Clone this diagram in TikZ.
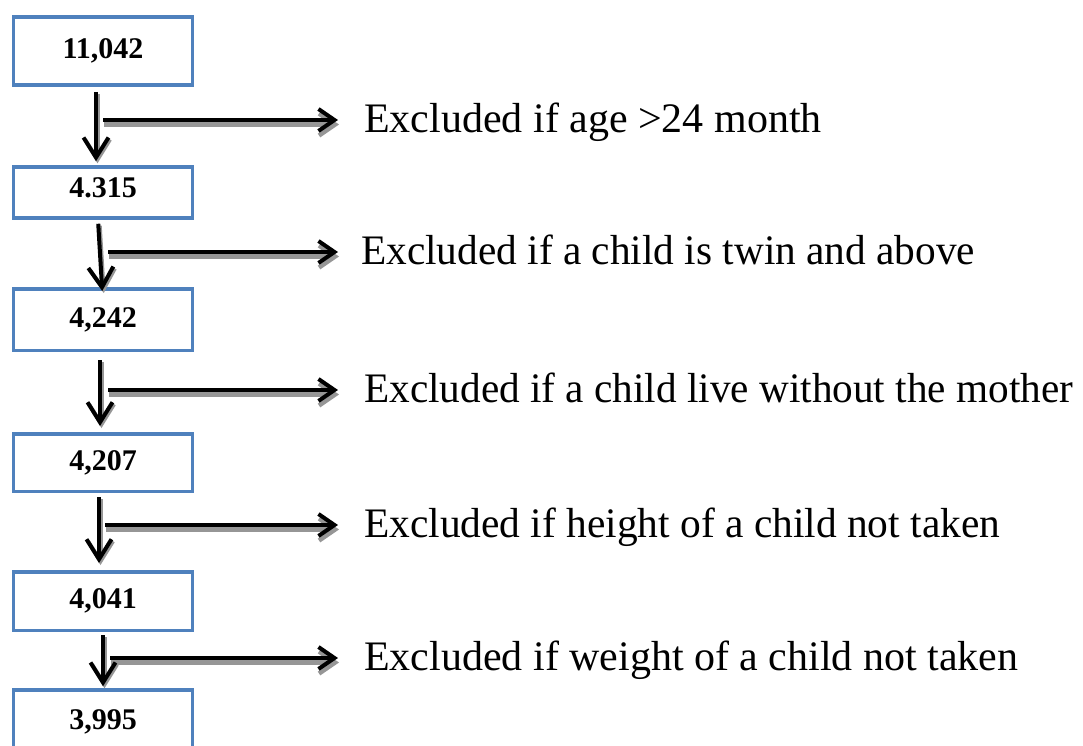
\documentclass[tikz,border=0pt]{standalone}
\usepackage{graphicx}
\usepackage{fontspec}
\setmainfont{Liberation Serif}
\usetikzlibrary{arrows.meta}
\definecolor{boxblue}{RGB}{79,129,189}
\definecolor{shadowgray}{RGB}{150,150,150}
\begin{document}
\begin{tikzpicture}[x=1pt,y=-1pt,
  numbox/.style={draw=boxblue,line width=3.5pt,minimum width=179pt,inner sep=0pt,
    font=\fontsize{30}{36}\selectfont\bfseries},
  lbl/.style={anchor=west,inner sep=0pt,text height=29pt,text depth=9pt,
    font=\fontsize{42}{50}\selectfont},
  downarr/.style={draw=black,line width=4pt,-{Straight Barb[length=20pt,width=25pt]}},
  downshadow/.style={draw=shadowgray,line width=4pt,-{Straight Barb[length=20pt,width=25pt]},
    transform canvas={xshift=1.5pt,yshift=-2pt}},
  sidearr/.style={draw=black,line width=4pt,-{Straight Barb[length=16pt,width=22pt]}},
  sideshadow/.style={draw=shadowgray,line width=4.5pt,-{Straight Barb[length=16pt,width=22pt]},
    transform canvas={xshift=1pt,yshift=-4.5pt}}
]
\useasboundingbox (0,0) rectangle (1083,745);
\clip (0,0) rectangle (1083,745);
\fill[white] (0,0) rectangle (1083,745);

% boxes
\node[numbox,minimum height=68pt]   (b1) at (103,51)    {11,042};
\node[numbox,minimum height=51pt,text depth=10pt] (b2) at (103,192.5) {4.315};
\node[numbox,minimum height=61.5pt] (b3) at (103,319.5) {4,242};
\node[numbox,minimum height=57.5pt] (b4) at (103,462.5) {4,207};
\node[numbox,minimum height=58.5pt] (b5) at (103,601)   {4,041};
\node[numbox,minimum height=64pt]   (b6) at (103,722)   {3,995};

% labels
\node[lbl] (l1) at (364,122) {Excluded if age >24 month};
\node[lbl] (l2) at (361,254) {\scalebox{0.984}[1]{Excluded if a child is twin and above}};
\node[lbl] (l3) at (364,392) {\scalebox{0.982}[1]{Excluded if a child live without the mother}};
\node[lbl] (l4) at (364,527) {\scalebox{0.986}[1]{Excluded if height of a child not taken}};
\node[lbl] (l5) at (364,660) {Excluded if weight of a child not taken};

% start points of side arrows
\coordinate (h1) at (103,120);
\coordinate (h2) at (108,252);
\coordinate (h3) at (108,390);
\coordinate (h4) at (105,525);
\coordinate (h5) at (110,658);

% shadows of side arrows
\draw[sideshadow,shorten >=26pt] (h1) -- (h1 -| l1.west);
\draw[sideshadow,shorten >=23pt] (h2) -- (h2 -| l2.west);
\draw[sideshadow,shorten >=26pt] (h3) -- (h3 -| l3.west);
\draw[sideshadow,shorten >=26pt] (h4) -- (h4 -| l4.west);
\draw[sideshadow,shorten >=26pt] (h5) -- (h5 -| l5.west);

% shadows of down arrows
\draw[downshadow,shorten <=5pt,shorten >=4pt]  ([shift={(-7,0)}]b1.south) -- ([shift={(-7,0)}]b2.north);
\draw[downshadow,shorten <=4pt,shorten >=-4pt] ([shift={(-5,0)}]b2.south) -- ([shift={(-1,0)}]b3.north);
\draw[downshadow,shorten <=8pt,shorten >=6pt]  ([shift={(-3,0)}]b3.south) -- ([shift={(-3,0)}]b4.north);
\draw[downshadow,shorten <=4pt,shorten >=7pt]  ([shift={(-4,0)}]b4.south) -- ([shift={(-4,0)}]b5.north);
\draw[downshadow,shorten <=3pt,shorten >=2pt]  (b5.south) -- (b6.north);

% side arrows
\draw[sidearr,shorten >=26pt] (h1) -- (h1 -| l1.west);
\draw[sidearr,shorten >=23pt] (h2) -- (h2 -| l2.west);
\draw[sidearr,shorten >=26pt] (h3) -- (h3 -| l3.west);
\draw[sidearr,shorten >=26pt] (h4) -- (h4 -| l4.west);
\draw[sidearr,shorten >=26pt] (h5) -- (h5 -| l5.west);

% down arrows
\draw[downarr,shorten <=5pt,shorten >=4pt]  ([shift={(-7,0)}]b1.south) -- ([shift={(-7,0)}]b2.north);
\draw[downarr,shorten <=4pt,shorten >=-4pt] ([shift={(-5,0)}]b2.south) -- ([shift={(-1,0)}]b3.north);
\draw[downarr,shorten <=8pt,shorten >=6pt]  ([shift={(-3,0)}]b3.south) -- ([shift={(-3,0)}]b4.north);
\draw[downarr,shorten <=4pt,shorten >=7pt]  ([shift={(-4,0)}]b4.south) -- ([shift={(-4,0)}]b5.north);
\draw[downarr,shorten <=3pt,shorten >=2pt]  (b5.south) -- (b6.north);
\end{tikzpicture}
\end{document}
